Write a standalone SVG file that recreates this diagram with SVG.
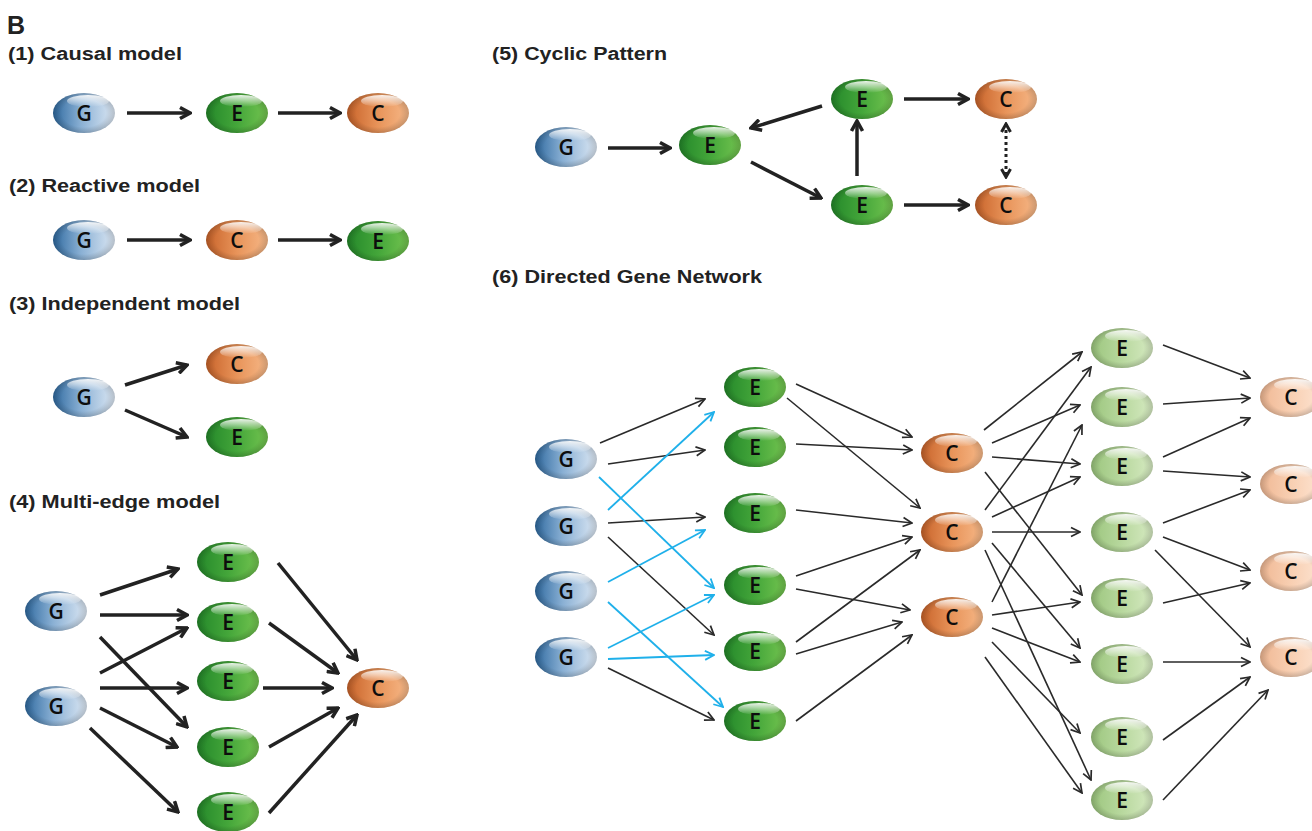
<svg xmlns="http://www.w3.org/2000/svg" xmlns:xlink="http://www.w3.org/1999/xlink" width="1312" height="831" viewBox="0 0 1312 831">
  <style>
    .title { font-family: "Liberation Sans", Arial, sans-serif; font-weight: bold; font-size: 18px; fill: #222; }
    .big { font-family: "Liberation Sans", Arial, sans-serif; font-weight: bold; font-size: 25px; fill: #222; }
    .lbl { font-family: "Open Sans", "Liberation Sans", sans-serif; font-weight: 600; font-size: 21px; fill: #0d0d0d; text-anchor: middle; dominant-baseline: central; }
    .thick { stroke: #222; stroke-width: 3.5; fill: none; marker-end: url(#ahThick); }
    .thin { stroke: #2a2a2a; stroke-width: 1.6; fill: none; marker-end: url(#ahThin); }
    .blue { stroke: #1fb0ea; stroke-width: 1.8; fill: none; marker-end: url(#ahBlue); }
    .dotted { stroke: #222; stroke-width: 3; stroke-dasharray: 3 3; fill: none; marker-end: url(#ahSmall); marker-start: url(#ahSmall); }
  </style>
  <defs>
    <linearGradient id="gradG" x1="0" y1="0" x2="1" y2="0">
      <stop offset="0" stop-color="#2f6aa0"/>
      <stop offset="0.45" stop-color="#8ab0d4"/>
      <stop offset="1" stop-color="#dde8f4"/>
    </linearGradient>
    <linearGradient id="gradE" x1="0" y1="0" x2="1" y2="0">
      <stop offset="0" stop-color="#24882a"/>
      <stop offset="0.5" stop-color="#44a63a"/>
      <stop offset="1" stop-color="#74c450"/>
    </linearGradient>
    <linearGradient id="gradC" x1="0" y1="0" x2="1" y2="0">
      <stop offset="0" stop-color="#c8632a"/>
      <stop offset="0.5" stop-color="#e8945a"/>
      <stop offset="1" stop-color="#f6b888"/>
    </linearGradient>
    <linearGradient id="gradLE" x1="0" y1="0" x2="1" y2="0">
      <stop offset="0" stop-color="#9cc67e"/>
      <stop offset="0.5" stop-color="#b8d89e"/>
      <stop offset="1" stop-color="#d6eac2"/>
    </linearGradient>
    <linearGradient id="gradLC" x1="0" y1="0" x2="1" y2="0">
      <stop offset="0" stop-color="#f0b894"/>
      <stop offset="0.5" stop-color="#f8cfb2"/>
      <stop offset="1" stop-color="#fde4d2"/>
    </linearGradient>
    <linearGradient id="gloss" x1="0" y1="0" x2="0" y2="1">
      <stop offset="0" stop-color="#ffffff" stop-opacity="0.9"/>
      <stop offset="1" stop-color="#ffffff" stop-opacity="0"/>
    </linearGradient>
    <radialGradient id="shade" cx="0.5" cy="0.5" r="0.5">
      <stop offset="0.7" stop-color="#000" stop-opacity="0"/>
      <stop offset="1" stop-color="#000" stop-opacity="0.18"/>
    </radialGradient>

    <!-- glossy ellipse shapes, centred on the origin -->
    <g id="shapeG">
      <ellipse rx="31" ry="20" fill="url(#gradG)"/>
      <ellipse rx="31" ry="20" fill="url(#shade)"/>
      <ellipse cx="4" cy="-12" rx="21" ry="6" fill="url(#gloss)"/>
    </g>
    <g id="shapeE">
      <ellipse rx="31" ry="20" fill="url(#gradE)"/>
      <ellipse rx="31" ry="20" fill="url(#shade)"/>
      <ellipse cx="4" cy="-12" rx="21" ry="6" fill="url(#gloss)"/>
    </g>
    <g id="shapeC">
      <ellipse rx="31" ry="20" fill="url(#gradC)"/>
      <ellipse rx="31" ry="20" fill="url(#shade)"/>
      <ellipse cx="4" cy="-12" rx="21" ry="6" fill="url(#gloss)"/>
    </g>
    <g id="shapeLE">
      <ellipse rx="31" ry="20" fill="url(#gradLE)"/>
      <ellipse rx="31" ry="20" fill="url(#shade)"/>
      <ellipse cx="4" cy="-12" rx="21" ry="6" fill="url(#gloss)"/>
    </g>
    <g id="shapeLC">
      <ellipse rx="31" ry="20" fill="url(#gradLC)"/>
      <ellipse rx="31" ry="20" fill="url(#shade)"/>
      <ellipse cx="4" cy="-12" rx="21" ry="6" fill="url(#gloss)"/>
    </g>

    <marker id="ahThick" viewBox="0 0 14 14" refX="12" refY="7" markerWidth="14" markerHeight="14" markerUnits="userSpaceOnUse" orient="auto">
      <path d="M2,1.5 L12,7 L2,12.5" fill="none" stroke="#222" stroke-width="3.5" stroke-linejoin="miter"/>
    </marker>
    <marker id="ahSmall" viewBox="0 0 12 12" refX="10" refY="6" markerWidth="12" markerHeight="12" markerUnits="userSpaceOnUse" orient="auto-start-reverse">
      <path d="M2,1.5 L10,6 L2,10.5" fill="none" stroke="#222" stroke-width="3"/>
    </marker>
    <marker id="ahThin" viewBox="0 0 12 12" refX="11" refY="6" markerWidth="12" markerHeight="12" markerUnits="userSpaceOnUse" orient="auto">
      <path d="M2,1.5 L11,6 L2,10.5" fill="none" stroke="#2a2a2a" stroke-width="1.7"/>
    </marker>
    <marker id="ahBlue" viewBox="0 0 12 12" refX="11" refY="6" markerWidth="12" markerHeight="12" markerUnits="userSpaceOnUse" orient="auto">
      <path d="M2,1.5 L11,6 L2,10.5" fill="none" stroke="#1fb0ea" stroke-width="1.8"/>
    </marker>
  </defs>

  <rect width="1312" height="831" fill="#ffffff"/>

  <!-- headings -->
  <g id="headings">
    <text class="big" x="7" y="34">B</text>
    <text class="title" x="8" y="60" textLength="174" lengthAdjust="spacingAndGlyphs">(1) Causal model</text>
    <text class="title" x="9" y="192" textLength="191" lengthAdjust="spacingAndGlyphs">(2) Reactive model</text>
    <text class="title" x="9" y="310" textLength="231" lengthAdjust="spacingAndGlyphs">(3) Independent model</text>
    <text class="title" x="9" y="508" textLength="211" lengthAdjust="spacingAndGlyphs">(4) Multi-edge model</text>
    <text class="title" x="492" y="60" textLength="175" lengthAdjust="spacingAndGlyphs">(5) Cyclic Pattern</text>
    <text class="title" x="492" y="283" textLength="270" lengthAdjust="spacingAndGlyphs">(6) Directed Gene Network</text>
  </g>

  <!-- connectors -->
  <g id="connectors">
    <!-- (1) -->
    <line class="thick" x1="127" y1="113" x2="190" y2="113"/>
    <line class="thick" x1="278" y1="113" x2="340" y2="113"/>
    <!-- (2) -->
    <line class="thick" x1="127" y1="240" x2="190" y2="240"/>
    <line class="thick" x1="278" y1="240" x2="340" y2="240"/>
    <!-- (3) -->
    <line class="thick" x1="125" y1="385" x2="187" y2="365"/>
    <line class="thick" x1="125" y1="410" x2="187" y2="437"/>
    <!-- (4) -->
    <line class="thick" x1="100" y1="595" x2="178" y2="569"/>
    <line class="thick" x1="100" y1="615" x2="187" y2="615"/>
    <line class="thick" x1="100" y1="637" x2="187" y2="727"/>
    <line class="thick" x1="100" y1="673" x2="187" y2="628"/>
    <line class="thick" x1="100" y1="688" x2="187" y2="688"/>
    <line class="thick" x1="100" y1="708" x2="177" y2="747"/>
    <line class="thick" x1="90" y1="728" x2="178" y2="812"/>
    <line class="thick" x1="278" y1="563" x2="357" y2="660"/>
    <line class="thick" x1="269" y1="623" x2="338" y2="673"/>
    <line class="thick" x1="263" y1="688" x2="332" y2="688"/>
    <line class="thick" x1="269" y1="747" x2="338" y2="708"/>
    <line class="thick" x1="269" y1="813" x2="357" y2="715"/>
    <!-- (5) -->
    <line class="thick" x1="608" y1="148" x2="670" y2="148"/>
    <line class="thick" x1="822" y1="106" x2="751" y2="128"/>
    <line class="thick" x1="751" y1="162" x2="821" y2="198"/>
    <line class="thick" x1="857" y1="176" x2="857" y2="121"/>
    <line class="thick" x1="904" y1="99" x2="968" y2="99"/>
    <line class="thick" x1="904" y1="205" x2="968" y2="205"/>
    <line class="dotted" x1="1006" y1="124" x2="1006" y2="177"/>
    <!-- (6) genes to first expression layer -->
    <line class="thin" x1="600" y1="443" x2="705" y2="399"/>
    <line class="thin" x1="608" y1="464" x2="705" y2="450"/>
    <line class="thin" x1="608" y1="523" x2="705" y2="517"/>
    <line class="thin" x1="608" y1="537" x2="714" y2="635"/>
    <line class="thin" x1="608" y1="668" x2="714" y2="720"/>
    <line class="blue" x1="608" y1="510" x2="714" y2="412"/>
    <line class="blue" x1="599" y1="477" x2="714" y2="588"/>
    <line class="blue" x1="608" y1="582" x2="705" y2="530"/>
    <line class="blue" x1="608" y1="602" x2="723" y2="707"/>
    <line class="blue" x1="608" y1="648" x2="714" y2="595"/>
    <line class="blue" x1="608" y1="659" x2="714" y2="655"/>
    <!-- expression to traits -->
    <line class="thin" x1="796" y1="384" x2="912" y2="437"/>
    <line class="thin" x1="787" y1="398" x2="920" y2="508"/>
    <line class="thin" x1="796" y1="444" x2="912" y2="450"/>
    <line class="thin" x1="796" y1="510" x2="912" y2="523"/>
    <line class="thin" x1="796" y1="576" x2="912" y2="537"/>
    <line class="thin" x1="796" y1="589" x2="910" y2="610"/>
    <line class="thin" x1="796" y1="642" x2="920" y2="550"/>
    <line class="thin" x1="796" y1="654" x2="902" y2="622"/>
    <line class="thin" x1="796" y1="721" x2="912" y2="635"/>
    <!-- traits to second expression layer -->
    <line class="thin" x1="984" y1="430" x2="1082" y2="352"/>
    <line class="thin" x1="992" y1="443" x2="1080" y2="405"/>
    <line class="thin" x1="992" y1="457" x2="1080" y2="464"/>
    <line class="thin" x1="985" y1="472" x2="1082" y2="595"/>
    <line class="thin" x1="985" y1="510" x2="1091" y2="367"/>
    <line class="thin" x1="992" y1="517" x2="1080" y2="477"/>
    <line class="thin" x1="992" y1="532" x2="1080" y2="532"/>
    <line class="thin" x1="992" y1="543" x2="1080" y2="648"/>
    <line class="thin" x1="985" y1="550" x2="1091" y2="780"/>
    <line class="thin" x1="992" y1="602" x2="1082" y2="425"/>
    <line class="thin" x1="992" y1="615" x2="1080" y2="602"/>
    <line class="thin" x1="992" y1="628" x2="1080" y2="662"/>
    <line class="thin" x1="992" y1="642" x2="1080" y2="733"/>
    <line class="thin" x1="985" y1="657" x2="1082" y2="793"/>
    <!-- second expression layer to downstream traits -->
    <line class="thin" x1="1163" y1="345" x2="1250" y2="378"/>
    <line class="thin" x1="1163" y1="404" x2="1250" y2="398"/>
    <line class="thin" x1="1163" y1="457" x2="1250" y2="418"/>
    <line class="thin" x1="1163" y1="471" x2="1250" y2="477"/>
    <line class="thin" x1="1163" y1="523" x2="1250" y2="490"/>
    <line class="thin" x1="1163" y1="537" x2="1250" y2="570"/>
    <line class="thin" x1="1155" y1="550" x2="1250" y2="647"/>
    <line class="thin" x1="1163" y1="603" x2="1250" y2="583"/>
    <line class="thin" x1="1163" y1="662" x2="1250" y2="662"/>
    <line class="thin" x1="1163" y1="740" x2="1250" y2="677"/>
    <line class="thin" x1="1163" y1="800" x2="1268" y2="690"/>
  </g>

  <!-- (1) Causal model -->
  <g id="n1-g"><use xlink:href="#shapeG" x="84" y="113"/><text class="lbl" x="84" y="113">G</text></g>
  <g id="n1-e"><use xlink:href="#shapeE" x="237" y="113"/><text class="lbl" x="237" y="113">E</text></g>
  <g id="n1-c"><use xlink:href="#shapeC" x="378" y="113"/><text class="lbl" x="378" y="113">C</text></g>

  <!-- (2) Reactive model -->
  <g id="n2-g"><use xlink:href="#shapeG" x="84" y="240"/><text class="lbl" x="84" y="240">G</text></g>
  <g id="n2-c"><use xlink:href="#shapeC" x="237" y="240"/><text class="lbl" x="237" y="240">C</text></g>
  <g id="n2-e"><use xlink:href="#shapeE" x="378" y="241"/><text class="lbl" x="378" y="241">E</text></g>

  <!-- (3) Independent model -->
  <g id="n3-g"><use xlink:href="#shapeG" x="84" y="397"/><text class="lbl" x="84" y="397">G</text></g>
  <g id="n3-c"><use xlink:href="#shapeC" x="237" y="364"/><text class="lbl" x="237" y="364">C</text></g>
  <g id="n3-e"><use xlink:href="#shapeE" x="237" y="437"/><text class="lbl" x="237" y="437">E</text></g>

  <!-- (4) Multi-edge model -->
  <g id="n4-g1"><use xlink:href="#shapeG" x="56" y="611"/><text class="lbl" x="56" y="611">G</text></g>
  <g id="n4-g2"><use xlink:href="#shapeG" x="56" y="706"/><text class="lbl" x="56" y="706">G</text></g>
  <g id="n4-e1"><use xlink:href="#shapeE" x="228" y="562"/><text class="lbl" x="228" y="562">E</text></g>
  <g id="n4-e2"><use xlink:href="#shapeE" x="228" y="622"/><text class="lbl" x="228" y="622">E</text></g>
  <g id="n4-e3"><use xlink:href="#shapeE" x="228" y="681"/><text class="lbl" x="228" y="681">E</text></g>
  <g id="n4-e4"><use xlink:href="#shapeE" x="228" y="747"/><text class="lbl" x="228" y="747">E</text></g>
  <g id="n4-e5"><use xlink:href="#shapeE" x="228" y="812"/><text class="lbl" x="228" y="812">E</text></g>
  <g id="n4-c"><use xlink:href="#shapeC" x="378" y="688"/><text class="lbl" x="378" y="688">C</text></g>

  <!-- (5) Cyclic Pattern -->
  <g id="n5-g"><use xlink:href="#shapeG" x="566" y="147"/><text class="lbl" x="566" y="147">G</text></g>
  <g id="n5-e1"><use xlink:href="#shapeE" x="710" y="145"/><text class="lbl" x="710" y="145">E</text></g>
  <g id="n5-e2"><use xlink:href="#shapeE" x="862" y="99"/><text class="lbl" x="862" y="99">E</text></g>
  <g id="n5-e3"><use xlink:href="#shapeE" x="862" y="205"/><text class="lbl" x="862" y="205">E</text></g>
  <g id="n5-c1"><use xlink:href="#shapeC" x="1006" y="99"/><text class="lbl" x="1006" y="99">C</text></g>
  <g id="n5-c2"><use xlink:href="#shapeC" x="1006" y="205"/><text class="lbl" x="1006" y="205">C</text></g>

  <!-- (6) Directed Gene Network: genes -->
  <g id="n6-g1"><use xlink:href="#shapeG" x="566" y="459"/><text class="lbl" x="566" y="459">G</text></g>
  <g id="n6-g2"><use xlink:href="#shapeG" x="566" y="526"/><text class="lbl" x="566" y="526">G</text></g>
  <g id="n6-g3"><use xlink:href="#shapeG" x="566" y="591"/><text class="lbl" x="566" y="591">G</text></g>
  <g id="n6-g4"><use xlink:href="#shapeG" x="566" y="657"/><text class="lbl" x="566" y="657">G</text></g>
  <!-- first expression layer -->
  <g id="n6-e1"><use xlink:href="#shapeE" x="755" y="387"/><text class="lbl" x="755" y="387">E</text></g>
  <g id="n6-e2"><use xlink:href="#shapeE" x="755" y="447"/><text class="lbl" x="755" y="447">E</text></g>
  <g id="n6-e3"><use xlink:href="#shapeE" x="755" y="513"/><text class="lbl" x="755" y="513">E</text></g>
  <g id="n6-e4"><use xlink:href="#shapeE" x="755" y="585"/><text class="lbl" x="755" y="585">E</text></g>
  <g id="n6-e5"><use xlink:href="#shapeE" x="755" y="651"/><text class="lbl" x="755" y="651">E</text></g>
  <g id="n6-e6"><use xlink:href="#shapeE" x="755" y="721"/><text class="lbl" x="755" y="721">E</text></g>
  <!-- traits -->
  <g id="n6-c1"><use xlink:href="#shapeC" x="952" y="453"/><text class="lbl" x="952" y="453">C</text></g>
  <g id="n6-c2"><use xlink:href="#shapeC" x="952" y="532"/><text class="lbl" x="952" y="532">C</text></g>
  <g id="n6-c3"><use xlink:href="#shapeC" x="952" y="617"/><text class="lbl" x="952" y="617">C</text></g>
  <!-- second expression layer -->
  <g id="n6-le1"><use xlink:href="#shapeLE" x="1122" y="348"/><text class="lbl" x="1122" y="348">E</text></g>
  <g id="n6-le2"><use xlink:href="#shapeLE" x="1122" y="407"/><text class="lbl" x="1122" y="407">E</text></g>
  <g id="n6-le3"><use xlink:href="#shapeLE" x="1122" y="466"/><text class="lbl" x="1122" y="466">E</text></g>
  <g id="n6-le4"><use xlink:href="#shapeLE" x="1122" y="532"/><text class="lbl" x="1122" y="532">E</text></g>
  <g id="n6-le5"><use xlink:href="#shapeLE" x="1122" y="598"/><text class="lbl" x="1122" y="598">E</text></g>
  <g id="n6-le6"><use xlink:href="#shapeLE" x="1122" y="664"/><text class="lbl" x="1122" y="664">E</text></g>
  <g id="n6-le7"><use xlink:href="#shapeLE" x="1122" y="737"/><text class="lbl" x="1122" y="737">E</text></g>
  <g id="n6-le8"><use xlink:href="#shapeLE" x="1122" y="800"/><text class="lbl" x="1122" y="800">E</text></g>
  <!-- downstream traits -->
  <g id="n6-lc1"><use xlink:href="#shapeLC" x="1291" y="397"/><text class="lbl" x="1291" y="397">C</text></g>
  <g id="n6-lc2"><use xlink:href="#shapeLC" x="1291" y="484"/><text class="lbl" x="1291" y="484">C</text></g>
  <g id="n6-lc3"><use xlink:href="#shapeLC" x="1291" y="571"/><text class="lbl" x="1291" y="571">C</text></g>
  <g id="n6-lc4"><use xlink:href="#shapeLC" x="1291" y="657"/><text class="lbl" x="1291" y="657">C</text></g>
</svg>
